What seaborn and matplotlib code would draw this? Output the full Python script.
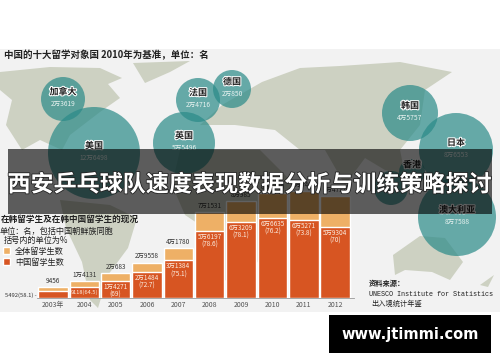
import matplotlib
matplotlib.use("Agg")
import matplotlib.pyplot as plt
import matplotlib.patheffects as pe
from matplotlib.patches import Polygon, Rectangle
import pandas as pd
import seaborn as sns

# bubble map: the ten study destinations (positions are pixels of the map panel)
countries = ["加拿大", "美国", "法国", "德国", "英国", "韩国", "日本", "香港", "澳大利亚"]
country_counts = ["2万3619", "12万6498", "2万4716", "2万850", "5万5496", "4万5757", "8万6553", "", "8万7588"]
bubble_x = [63, 94, 198, 232, 184, 410, 456, 412, 457, 391]
bubble_y = [99, 153, 100, 89, 143, 113, 150, 172, 217, 188]
bubble_r = [22, 46, 22, 19, 31, 28, 37, 13, 39, 17]

# students in Korea
years = ["2003年", "2004", "2005", "2006", "2007", "2008", "2009", "2010", "2011", "2012"]
total_students = [9456, 14131, 20683, 29558, 41780, 71531, 80985, 87480, 89468, 84711]
chinese_students = [5492, 9118, 14271, 21484, 31384, 56197, 63209, 66635, 65271, 59304]
total_labels = ["9456", "1万4131", "2万683", "2万9558", "4万1780", "7万1531", "8万985", "8万7480", "8万9468", "8万4711"]
chinese_labels = ["", "9118(64.5)", "1万4271\n(69)", "2万1484\n(72.7)", "3万1384\n(75.1)", "5万6197\n(78.6)",
                  "6万3209\n(78.1)", "6万6635\n(76.2)", "6万5271\n(73.8)", "5万9304\n(70)"]

# rough land shapes behind the bubbles
north_america = [(0, 72), (50, 67), (100, 68), (122, 78), (108, 84), (120, 98), (100, 112), (70, 135), (62, 150),
                 (40, 140), (22, 150), (6, 125), (12, 100), (0, 90)]
greenland = [(133, 63), (190, 61), (170, 72), (145, 83)]
south_america = [(60, 200), (110, 205), (137, 218), (128, 248), (108, 275), (98, 308), (90, 300), (82, 262), (66, 228)]
eurasia = [(200, 125), (222, 105), (262, 82), (300, 68), (340, 66), (400, 62), (452, 72), (425, 90), (420, 125),
           (400, 150), (405, 175), (385, 170), (365, 158), (345, 185), (325, 150), (300, 150), (275, 130), (235, 125)]
africa = [(180, 150), (260, 150), (295, 185), (270, 215), (265, 250), (240, 290), (225, 280), (215, 235), (185, 215), (172, 185)]
australia = [(393, 255), (420, 236), (445, 238), (463, 262), (450, 280), (432, 272), (405, 270), (395, 275)]
new_zealand = [(480, 285), (494, 275), (488, 287)]
land_shapes = [north_america, greenland, south_america, eurasia, africa, australia, new_zealand]

CJK = ["Noto Sans CJK SC", "DejaVu Sans"]
TEAL = "#2a8a88"
DARK = "#222222"


def px(x, y):
    return x / 500, 1 - y / 362


def main():
    sns.set_theme(style="white")
    plt.rcParams["font.family"] = CJK

    fig = plt.figure(figsize=(5, 3.62), dpi=100)
    fig.patch.set_facecolor("white")

    # map panel, y runs downwards like the picture
    ax = fig.add_axes([0, 0, 1, 1], zorder=1)
    ax.set_xlim(0, 500)
    ax.set_ylim(362, 0)
    ax.axis("off")
    ax.add_patch(Rectangle((0, 49), 500, 263, fc="#f2f2f2", ec="none", zorder=0))
    for shape in land_shapes:
        ax.add_patch(Polygon(shape, fc="#cdd1c2", ec="none", zorder=1))

    bubbles = pd.DataFrame({"x": bubble_x, "y": bubble_y, "r": bubble_r})
    sizes = {r: (2 * r * 0.72) ** 2 for r in bubble_r}
    sns.scatterplot(data=bubbles, x="x", y="y", size="r", sizes=sizes, color=TEAL, alpha=0.7,
                    linewidth=0, legend=False, ax=ax, zorder=2)
    halo = [pe.withStroke(linewidth=1.5, foreground="white")]
    for name, count, x, y in zip(countries, country_counts, bubble_x, bubble_y):
        ax.text(x, y - 7, name, ha="center", va="center", fontsize=6.5, fontweight="bold", color=DARK,
                path_effects=halo, zorder=3)
        ax.text(x, y + 5, count, ha="center", va="center", fontsize=4.8, color="#e8f2f0", zorder=3)
    ax.text(4, 55, "中国的十大留学对象国 2010年为基准，单位：名", fontsize=6.8, fontweight="bold", color=DARK, va="center")

    # text over the lower left
    ax.text(1, 219, "在韩留学生及在韩中国留学生的现况", fontsize=6.2, fontweight="bold", color=DARK, va="center", zorder=5)
    ax.text(0, 231, "单位：名，包括中国朝鲜族同胞", fontsize=5.9, color=DARK, va="center", zorder=5)
    ax.text(4, 240, "括号内的单位为%", fontsize=5.9, color=DARK, va="center", zorder=5)

    ax.text(369, 283, "资料来源：", fontsize=5.2, fontweight="bold", color=DARK, va="center")
    ax.text(369, 294, "UNESCO Institute for Statistics", fontsize=4.9, family="Liberation Mono", color=DARK, va="center")
    ax.text(371, 304, "出入境统计年鉴", fontsize=5.2, color=DARK, va="center")

    # bar panel: baseline at y=298, x from 37 to 354
    left, bottom = px(37.3, 298)
    bars = fig.add_axes([left, bottom, (354 - 37.3) / 500, 108 / 362], zorder=2)
    bars.patch.set_alpha(0)
    df = pd.DataFrame({"year": years, "total": total_students, "chinese": chinese_students})
    sns.barplot(data=df, x="year", y="total", color="#eeb066", saturation=1, width=0.94,
                label="全体留学生数", ax=bars)
    sns.barplot(data=df, x="year", y="chinese", color="#d75522", saturation=1, width=0.94,
                label="中国留学生数", ax=bars)
    bars.set_xlim(-0.5, 9.6)
    bars.set_ylim(0, 90000)
    bars.set_xlabel("")
    bars.set_ylabel("")
    bars.set_yticks([])
    bars.tick_params(axis="x", length=0, pad=2, labelsize=5, labelcolor="#555555")
    sns.despine(ax=bars, left=True)
    bars.spines["bottom"].set_color("#999999")
    bars.spines["bottom"].set_linewidth(0.6)

    for i, (total, chinese) in enumerate(zip(total_students, chinese_students)):
        bars.annotate(total_labels[i], (i, total), xytext=(0, 1.5), textcoords="offset points",
                      ha="center", va="bottom", fontsize=4.6, color="#333333")
        bars.annotate(chinese_labels[i], (i, chinese), xytext=(0, -1.5), textcoords="offset points",
                      ha="center", va="top", fontsize=4.1 if i == 1 else 4.6, color="#fbeee2", linespacing=0.95)
    bars.annotate("5492(58.1) -", (0, 0), xytext=(px(37, 0)[0], px(0, 295)[1]), textcoords="figure fraction",
                  ha="right", va="center", fontsize=4.2, color="#333333", annotation_clip=False)

    leg = bars.legend(loc="upper left", bbox_to_anchor=px(1, 245), bbox_transform=fig.transFigure, frameon=False,
                      fontsize=5.9, handlelength=0.9, handleheight=0.9, handletextpad=0.6, labelspacing=0.25,
                      borderpad=0.2, borderaxespad=0)
    for text in leg.get_texts():
        text.set_color(DARK)

    # headline banner and site tag sit over everything
    fig.add_artist(Rectangle(px(8, 214), 484 / 500, 65 / 362, transform=fig.transFigure, fc="black", alpha=0.62,
                             ec="none", zorder=10))
    x, y = px(249, 185)
    fig.text(x, y, "西安乒乓球队速度表现数据分析与训练策略探讨", ha="center", va="center", fontsize=16.6,
             fontweight="bold", color="white", zorder=11,
             path_effects=[pe.withStroke(linewidth=1.2, foreground="#222222")])
    fig.add_artist(Rectangle(px(329, 353), 162 / 500, 38 / 362, transform=fig.transFigure, fc="black", ec="none",
                             zorder=10))
    x, y = px(410, 334)
    fig.text(x, y, "www.jtimmi.com", ha="center", va="center", fontsize=10.5, fontweight="bold", color="white",
             family="DejaVu Sans", zorder=11)

    fig.savefig("out.png", dpi=100)


if __name__ == "__main__":
    main()
